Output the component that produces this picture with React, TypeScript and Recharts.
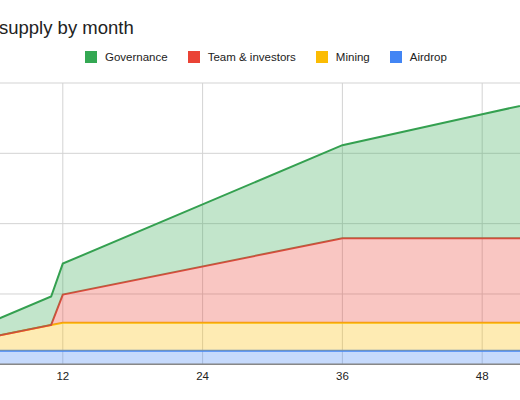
import { AreaChart, Area, XAxis, YAxis, CartesianGrid } from 'recharts'

const months = [0, 11, 12, 36, 48, 60]
const airdrop = [48, 48, 48, 48, 48, 48]
const mining = [0, 92, 100, 100, 100, 100]
const team = [0, 0, 100, 300, 300, 300]
const governance = [0, 101, 110, 331, 441, 550]

const monthTicks = [12, 24, 36, 48]
const supplyTicks = [0, 250, 500, 750, 1000]

const SERIES = [
  { key: 'airdrop', name: 'Airdrop', color: '#4285f4', line: '#4285f4' },
  { key: 'mining', name: 'Mining', color: '#fbbc04', line: '#fbbc04' },
  { key: 'team', name: 'Team & investors', color: '#ea4335', line: '#e0463a' },
  { key: 'governance', name: 'Governance', color: '#34a853', line: '#34a050' },
]

const data = months.map((m, i) => ({
  month: m,
  airdrop: airdrop[i],
  mining: mining[i],
  team: team[i],
  governance: governance[i],
}))

const FONT = '"Liberation Sans", Arial, Helvetica, sans-serif'

function Legend() {
  const items = [...SERIES].reverse()
  return (
    <div
      style={{
        position: 'absolute',
        top: 50,
        left: 85,
        display: 'flex',
        alignItems: 'center',
        fontFamily: FONT,
        fontSize: 11.5,
        color: '#222',
        lineHeight: '14px',
      }}
    >
      {items.map((s) => (
        <div key={s.key} style={{ display: 'flex', alignItems: 'center', marginRight: 20 }}>
          <span style={{ width: 12, height: 12, background: s.color, marginRight: 8, display: 'inline-block' }} />
          <span>{s.name}</span>
        </div>
      ))}
    </div>
  )
}

export default function App() {
  return (
    <div
      style={{
        position: 'fixed',
        top: 0,
        left: 0,
        width: 520,
        height: 400,
        overflow: 'hidden',
        background: '#fff',
      }}
    >
      <div
        style={{
          position: 'absolute',
          top: 17,
          left: -1,
          fontFamily: FONT,
          fontSize: 18.5,
          lineHeight: '22px',
          color: '#222',
          whiteSpace: 'nowrap',
        }}
      >
        supply by month
      </div>
      <Legend />
      <div style={{ position: 'absolute', left: -77.5, top: 80.7 }}>
        <AreaChart width={699} height={313.3} data={data} margin={{ top: 2, right: 0, bottom: 0, left: 0 }}>
          <CartesianGrid stroke="#d3d3d3" strokeWidth={1} />
          <XAxis
            dataKey="month"
            type="number"
            domain={[0, 60]}
            ticks={monthTicks}
            height={30}
            tickLine={false}
            tickSize={6}
            tickMargin={2}
            axisLine={{ stroke: '#888', strokeWidth: 1.5 }}
            tick={{ fontSize: 11.5, fill: '#222', fontFamily: FONT }}
          />
          <YAxis hide domain={[0, 1000]} ticks={supplyTicks} />
          {SERIES.map((s) => (
            <Area
              key={s.key}
              type="linear"
              dataKey={s.key}
              name={s.name}
              stackId="supply"
              stroke={s.line}
              strokeWidth={2}
              fill={s.color}
              fillOpacity={0.3}
              dot={false}
              activeDot={false}
              isAnimationActive={false}
            />
          ))}
        </AreaChart>
      </div>
    </div>
  )
}
